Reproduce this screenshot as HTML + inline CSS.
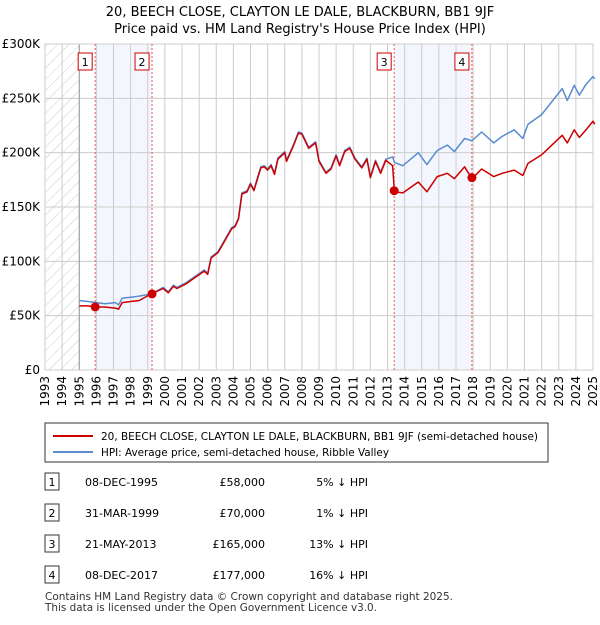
<!DOCTYPE html>
<html><head><meta charset="utf-8"><style>
body{margin:0;background:#fff;font-family:"Liberation Sans","DejaVu Sans",sans-serif;}
svg text{font-family:"DejaVu Sans","Liberation Sans",sans-serif;}
</style></head><body>
<svg width="600" height="620" xmlns="http://www.w3.org/2000/svg">
<defs><pattern id="hatch" width="8" height="8" patternUnits="userSpaceOnUse" patternTransform="rotate(45)"><line x1="0" y1="0" x2="0" y2="8" stroke="#ccc" stroke-width="1"/></pattern></defs>
<text x="300" y="16" text-anchor="middle" font-size="13">20, BEECH CLOSE, CLAYTON LE DALE, BLACKBURN, BB1 9JF</text>
<text x="300" y="33" text-anchor="middle" font-size="13">Price paid vs. HM Land Registry's House Price Index (HPI)</text>
<g id="plot"></g>
<g>
<rect x="45" y="423" width="503" height="39" fill="#fff" stroke="#333" stroke-width="1"/>
<line x1="53" y1="436" x2="93" y2="436" stroke="#cc0000" stroke-width="2"/>
<text x="101" y="440" font-size="10.5" textLength="437" lengthAdjust="spacingAndGlyphs">20, BEECH CLOSE, CLAYTON LE DALE, BLACKBURN, BB1 9JF (semi-detached house)</text>
<line x1="53" y1="452" x2="93" y2="452" stroke="#5b8bd0" stroke-width="2"/>
<text x="101" y="456" font-size="10.5" textLength="288" lengthAdjust="spacingAndGlyphs">HPI: Average price, semi-detached house, Ribble Valley</text>
</g>
<g id="table" font-size="11"></g>
<text x="45" y="600" font-size="10.5" textLength="408" lengthAdjust="spacingAndGlyphs" fill="#333">Contains HM Land Registry data © Crown copyright and database right 2025.</text>
<text x="45" y="611" font-size="10.5" textLength="332" lengthAdjust="spacingAndGlyphs" fill="#333">This data is licensed under the Open Government Licence v3.0.</text>
</svg>
<script>
const years=[1995.0,1995.5,1996.0,1996.5,1997.1,1997.3,1997.5,1998.0,1998.5,1999.2,1999.9,2000.2,2000.5,2000.7,2001.2,2002.3,2002.5,2002.7,2003.1,2003.9,2004.1,2004.3,2004.5,2004.8,2005.0,2005.2,2005.6,2005.8,2006.0,2006.2,2006.4,2006.6,2007.0,2007.1,2007.5,2007.8,2008.0,2008.4,2008.8,2009.0,2009.4,2009.7,2010.0,2010.2,2010.5,2010.8,2011.1,2011.5,2011.8,2012.0,2012.3,2012.6,2012.9,2013.3,2013.4,2013.9,2014.8,2015.3,2015.9,2016.5,2016.9,2017.5,2017.93,2018.5,2019.2,2019.7,2020.4,2020.9,2021.2,2022.0,2022.6,2023.2,2023.5,2023.9,2024.2,2024.6,2025.0,2025.1];
const hpi=[64,63,62,61,62,60,66,67,68,70,76,72,78,76,80,92,89,104,109,131,133,140,163,165,172,166,187,188,185,189,181,195,201,193,207,219,218,205,210,193,182,186,198,189,202,205,195,187,195,178,193,182,194,196,191,188,200,189,202,207,201,213,211,219,209,215,221,213,226,235,247,259,248,262,253,263,270,268];
const price=[59,59,58,58,57,56,62,63,64,70,75,71,77,75,79,91,88,103,108,130,132,139,162,164,171,165,186,187,184,188,180,194,200,192,206,218,217,204,209,192,181,185,197,188,201,204,194,186,194,177,192,181,193,188,164,163,173,164,178,181,176,187,176,185,178,181,184,179,190,198,207,216,209,221,214,221,229,226];
const saleYears=[1995.93,1999.25,2013.39,2017.93];
const salePrices=[58,70,165,177];
const saleDates=["08-DEC-1995","31-MAR-1999","21-MAY-2013","08-DEC-2017"];
const salePriceLabels=["£58,000","£70,000","£165,000","£177,000"];
const saleHpiLabels=["5% ↓ HPI","1% ↓ HPI","13% ↓ HPI","16% ↓ HPI"];
const yTicks=[0,50,100,150,200,250,300];
const yTickLabels=["£0","£50K","£100K","£150K","£200K","£250K","£300K"];

const X0=45,X1=593,Y0=370,Y1=44;
const xs=y=>X0+(y-1993)/(2025-1993)*(X1-X0);
const ys=v=>Y0-v/300*(Y0-Y1);
const NS="http://www.w3.org/2000/svg";
function mk(tag,attrs,parent){const e=document.createElementNS(NS,tag);for(const k in attrs)e.setAttribute(k,attrs[k]);parent.appendChild(e);return e;}
const plot=document.getElementById('plot');
let r=mk('rect',{x:X0,y:Y1,width:X1-X0,height:Y0-Y1,fill:'#fff'},plot);


r=mk('rect',{x:X0,y:Y1,width:xs(1995)-X0,height:Y0-Y1,fill:'url(#hatch)'},plot);


[[0,1],[2,3]].forEach((p,i)=>{const e=mk('rect',{x:xs(saleYears[p[0]]),y:Y1,width:xs(saleYears[p[1]])-xs(saleYears[p[0]]),height:Y0-Y1,fill:'#eef3fc',opacity:0.7},plot);

});
for(let yr=1993;yr<=2025;yr++){const e=mk('line',{x1:xs(yr),x2:xs(yr),y1:Y1,y2:Y0,stroke:'#ccc','stroke-width':1},plot);


const t=mk('text',{x:0,y:0,'font-size':12,'text-anchor':'end',transform:`translate(${xs(yr)+4},${Y0+6}) rotate(-90)`},plot);t.textContent=yr;

}
yTicks.forEach((v,i)=>{const e=mk('line',{x1:X0,x2:X1,y1:ys(v),y2:ys(v),stroke:'#ccc','stroke-width':1},plot);


const t=mk('text',{x:X0-5,y:ys(v)+4,'font-size':12,'text-anchor':'end'},plot);t.textContent=yTickLabels[i];

});
r=mk('line',{x1:xs(1995),x2:xs(1995),y1:Y1,y2:Y0,stroke:'#999','stroke-width':1},plot);


r=mk('rect',{x:X0,y:Y1,width:X1-X0,height:Y0-Y1,fill:'none',stroke:'#ccc'},plot);


saleYears.forEach((yr,i)=>{const e=mk('line',{x1:xs(yr),x2:xs(yr),y1:Y1,y2:Y0,stroke:'#e55','stroke-width':1,'stroke-dasharray':'2,2'},plot);


const b=mk('rect',{x:xs(yr)-10-7,y:53,width:14,height:17,fill:'#fff',stroke:'#cc0000'},plot);


const t=mk('text',{x:xs(yr)-10,y:66,'font-size':11,'text-anchor':'middle'},plot);t.textContent=i+1;

});
const path=(arr,col,name)=>{const e=mk('path',{d:arr.map((v,i)=>(i?'L':'M')+xs(years[i]).toFixed(1)+','+ys(v).toFixed(1)).join(''),fill:'none',stroke:col,'stroke-width':1.5,'stroke-linejoin':'round'},plot);

};
path(hpi,'#5b8bd0','hpi-line');
path(price,'#cc0000','price-paid-line');
saleYears.forEach((yr,i)=>{const c=mk('circle',{cx:xs(yr),cy:ys(salePrices[i]),r:4.5,fill:'#cc0000'},plot);

});
const tb=document.getElementById('table');
saleDates.forEach((d,i)=>{const y=483+i*31;
const b=mk('rect',{x:45,y:y-10,width:14,height:17,fill:'#fff',stroke:'#333'},tb);


const cells=[[52,'middle',i+1,'table-number'],[85,'start',d,'table-date'],[265,'end',salePriceLabels[i],'table-price'],[368,'end',saleHpiLabels[i],'table-hpi-diff']];
cells.forEach(c=>{const t=mk('text',{x:c[0],y:y+3,'text-anchor':c[1]},tb);t.textContent=c[2];

});});
</script>
</body></html>
